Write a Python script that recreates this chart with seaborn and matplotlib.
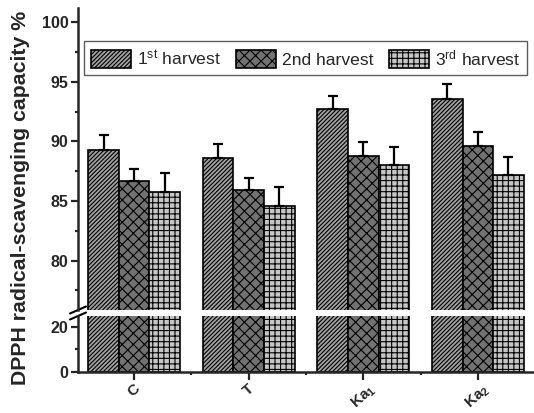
import numpy as np
import pandas as pd
import matplotlib
matplotlib.use("Agg")
import matplotlib.pyplot as plt
import seaborn as sns
from matplotlib.patches import Patch
from matplotlib.ticker import MultipleLocator

# ---- data ----
samples = ["C", "T", "Ka$_\\mathbf{1}$", "Ka$_\\mathbf{2}$"]
harvests = ["1$^{\\rm st}$ harvest", "2nd harvest", "3$^{\\rm rd}$ harvest"]
first_vals = [89.25, 88.6, 92.7, 93.6]
second_vals = [86.7, 85.9, 88.8, 89.65]
third_vals = [85.75, 84.6, 88.05, 87.2]
first_err = [1.25, 1.2, 1.15, 1.25]
second_err = [1.0, 1.05, 1.15, 1.15]
third_err = [1.6, 1.6, 1.5, 1.5]

values = [first_vals, second_vals, third_vals]
errors = [first_err, second_err, third_err]

rows = []
for h, vals in zip(harvests, values):
    for s, v in zip(samples, vals):
        rows.append({"sample": s, "harvest": h, "value": v})
df = pd.DataFrame(rows)

sns.set_theme(style="ticks")
plt.rcParams["font.family"] = ["Liberation Sans", "DejaVu Sans"]
plt.rcParams["mathtext.fontset"] = "custom"
plt.rcParams["mathtext.rm"] = "Liberation Sans"
plt.rcParams["mathtext.bf"] = "Liberation Sans:bold"
plt.rcParams["mathtext.it"] = "Liberation Sans:italic"
plt.rcParams["hatch.linewidth"] = 0.8

colors = ["#a2a2a2", "#727272", "#c6c6c6"]
hatches = ["////////", "xxx", "+++"]

fig = plt.figure(figsize=(5.34, 4.13), dpi=100)
W, H = 534.0, 413.0
left, right = 78 / W, 534 / W
ax_up = fig.add_axes([left, 1 - 310 / H, right - left, (310 - 8) / H])
ax_lo = fig.add_axes([left, 1 - 372 / H, right - left, (372 - 316) / H])

for ax in (ax_up, ax_lo):
    sns.barplot(data=df, x="sample", y="value", hue="harvest", order=samples,
                hue_order=harvests, palette=colors, saturation=1, errorbar=None,
                edgecolor="black", linewidth=1.2, width=0.8, legend=False, ax=ax)
    for cont, hp in zip(ax.containers, hatches):
        for bar in cont:
            bar.set_hatch(hp)
    ax.set_xlim(-0.49, 3.49)
    ax.set_xlabel("")
    ax.set_ylabel("")
    ax.spines["top"].set_visible(False)
    ax.spines["right"].set_visible(False)
    ax.spines["left"].set_linewidth(1.8)
    ax.spines["bottom"].set_linewidth(1.8)
    ax.tick_params(axis="y", which="major", length=5, width=1.6, pad=2,
                   labelsize=11.5, direction="out")
    ax.tick_params(axis="y", which="minor", length=2.5, width=1.6, direction="out")
    for lab in ax.get_yticklabels():
        lab.set_fontweight("bold")

# error bars on upper axes (only upward)
for cont, errs in zip(ax_up.containers, errors):
    xs = [b.get_x() + b.get_width() / 2 for b in cont]
    ys = [b.get_height() for b in cont]
    ax_up.errorbar(xs, ys, yerr=[np.zeros(len(errs)), errs], fmt="none",
                   ecolor="black", elinewidth=1.6, capsize=3.3, capthick=1.6, zorder=1)

# upper axis
ax_up.set_ylim(75.85, 101.2)
ax_up.yaxis.set_major_locator(MultipleLocator(5))
ax_up.yaxis.set_minor_locator(MultipleLocator(2.5))
ax_up.set_yticks([80, 85, 90, 95, 100])
ax_up.set_yticklabels(["80", "85", "90", "95", "100"], fontweight="bold")
ax_up.spines["bottom"].set_visible(False)
ax_up.tick_params(axis="x", which="both", bottom=False, labelbottom=False)

# lower axis
ax_lo.set_ylim(0, 24.7)
ax_lo.set_yticks([0, 20])
ax_lo.set_yticklabels(["0", "20"], fontweight="bold")
ax_lo.yaxis.set_minor_locator(MultipleLocator(10))
ax_lo.set_xticks(range(len(samples)))
ax_lo.set_xticks([0.5, 1.5, 2.5], minor=True)
ax_lo.set_xticklabels(samples, rotation=42, ha="center", va="top",
                      fontweight="bold", fontsize=11)
ax_lo.tick_params(axis="x", which="major", length=6, width=1.6, pad=1, direction="out")
ax_lo.tick_params(axis="x", which="minor", length=2.5, width=1.6, direction="out")

# break marks
for ax, yc in ((ax_up, 0.0), (ax_lo, 1.0)):
    t = ax.transAxes
    dx = 8 / (W * (right - left))
    hh = (302 if ax is ax_up else 56)
    dy = 3.5 / hh
    ax.plot([-dx, dx], [yc - dy, yc + dy], transform=t, color="black",
            lw=1.5, clip_on=False)

# legend
handles = [Patch(facecolor=c, edgecolor="black", hatch=hp, linewidth=1.2, label=h)
           for c, hp, h in zip(colors, hatches, harvests)]
leg = ax_up.legend(handles=handles, loc="upper center", bbox_to_anchor=(0.499, 0.89),
                   ncol=3, fontsize=12.6, frameon=True, fancybox=False,
                   handlelength=2.3, handleheight=1.2, handletextpad=0.35,
                   columnspacing=0.85, borderpad=0.4, borderaxespad=0)
leg.get_frame().set_edgecolor("#333333")
leg.get_frame().set_linewidth(1.0)

fig.text(0.038, 0.52, "DPPH radical-scavenging capacity %", rotation=90,
         ha="center", va="center", fontsize=15.3, fontweight="bold")

fig.savefig("out.png", dpi=100)
